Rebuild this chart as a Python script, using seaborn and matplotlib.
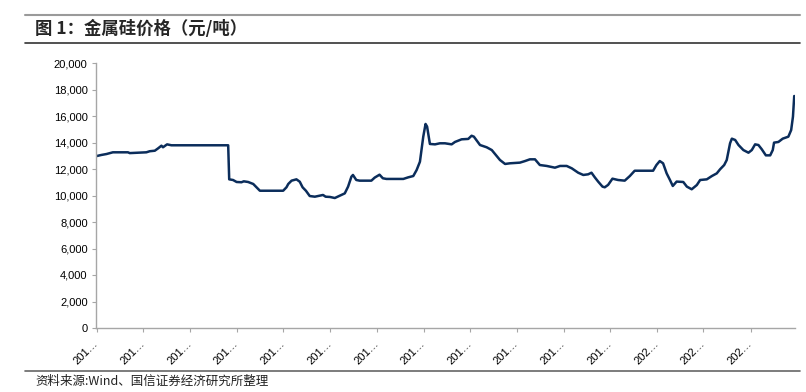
import pandas as pd
import matplotlib
matplotlib.use("Agg")
import matplotlib.pyplot as plt
from matplotlib.lines import Line2D
from matplotlib.ticker import FuncFormatter
import seaborn as sns

# 金属硅价格 (元/吨)
dates = [
    "2014-01-01", "2014-01-19", "2014-02-08", "2014-03-05", "2014-05-03", "2014-05-10",
    "2014-07-14", "2014-07-27", "2014-08-16", "2014-08-29", "2014-09-11", "2014-09-17",
    "2014-10-03", "2014-10-20", "2015-05-30", "2015-06-03", "2015-06-18", "2015-07-02",
    "2015-07-21", "2015-07-30", "2015-08-16", "2015-09-05", "2015-09-18", "2015-10-01",
    "2015-12-31", "2016-01-13", "2016-01-20", "2016-02-02", "2016-02-21", "2016-03-05",
    "2016-03-16", "2016-03-29", "2016-04-13", "2016-05-03", "2016-06-04", "2016-06-14",
    "2016-07-01", "2016-07-20", "2016-08-09", "2016-08-28", "2016-09-10", "2016-09-23",
    "2016-09-29", "2016-10-12", "2016-10-25", "2016-12-10", "2016-12-23", "2017-01-11",
    "2017-01-24", "2017-02-07", "2017-04-14", "2017-05-03", "2017-05-23", "2017-06-05",
    "2017-06-18", "2017-07-01", "2017-07-10", "2017-07-16", "2017-07-27", "2017-08-16",
    "2017-09-04", "2017-09-24", "2017-10-20", "2017-11-02", "2017-11-28", "2017-12-24",
    "2018-01-06", "2018-01-15", "2018-02-08", "2018-03-06", "2018-03-26", "2018-04-08",
    "2018-04-27", "2018-05-17", "2018-06-05", "2018-07-14", "2018-08-03", "2018-08-22",
    "2018-09-11", "2018-09-30", "2018-10-27", "2018-11-28", "2018-12-18", "2019-01-13",
    "2019-02-02", "2019-02-27", "2019-03-19", "2019-04-07", "2019-04-20", "2019-05-03",
    "2019-05-16", "2019-06-02", "2019-06-11", "2019-06-24", "2019-07-11", "2019-08-02",
    "2019-08-28", "2019-09-17", "2019-10-06", "2019-12-17", "2019-12-30", "2020-01-12",
    "2020-01-25", "2020-02-08", "2020-02-21", "2020-03-03", "2020-03-18", "2020-04-13",
    "2020-04-27", "2020-05-16", "2020-06-05", "2020-06-18", "2020-07-14", "2020-08-03",
    "2020-08-22", "2020-09-04", "2020-09-20", "2020-09-30", "2020-10-13", "2020-10-20",
    "2020-11-02", "2020-11-15", "2020-12-04", "2020-12-24", "2021-01-06", "2021-01-19",
    "2021-02-01", "2021-02-14", "2021-03-02", "2021-03-19", "2021-03-29", "2021-04-03",
    "2021-04-20", "2021-05-07", "2021-05-29", "2021-06-09", "2021-06-16", "2021-06-21",
]
prices = [
    12980, 13060, 13130, 13260, 13260, 13200,
    13260, 13340, 13380, 13560, 13760, 13640,
    13860, 13790, 13790, 11220, 11170, 11020,
    11000, 11070, 11020, 10870, 10620, 10360,
    10360, 10620, 10870, 11120, 11220, 11040,
    10620, 10360, 9960, 9910, 10040, 9910,
    9890, 9810, 9990, 10160, 10670, 11420,
    11550, 11170, 11120, 11120, 11350, 11570,
    11300, 11250, 11250, 11370, 11470, 11920,
    12550, 14440, 15400, 15200, 13890, 13860,
    13940, 13940, 13860, 14040, 14240, 14270,
    14510, 14440, 13810, 13640, 13430, 13130,
    12680, 12380, 12430, 12480, 12600, 12730,
    12730, 12300, 12230, 12100, 12230, 12230,
    12050, 11720, 11550, 11600, 11720, 11370,
    11050, 10670, 10620, 10800, 11270, 11170,
    11120, 11470, 11870, 11870, 12300, 12600,
    12430, 11670, 11170, 10720, 11050, 11020,
    10670, 10470, 10790, 11170, 11220, 11470,
    11670, 11980, 12300, 12680, 13940, 14290,
    14190, 13810, 13430, 13230, 13430, 13860,
    13810, 13490, 13030, 13030, 13430, 13990,
    14040, 14290, 14440, 14940, 15950, 17510,
]

tick_dates = [
    "2014-01-01", "2014-07-02", "2015-01-01", "2015-07-02", "2016-01-01",
    "2016-07-01", "2017-01-01", "2017-07-02", "2018-01-01", "2018-07-02",
    "2019-01-01", "2019-07-02", "2020-01-01", "2020-07-01", "2021-01-01",
]
tick_labels = ["201…"] * 12 + ["202…"] * 3

title = "图 1：金属硅价格（元/吨）"
source = "资料来源:Wind、国信证券经济研究所整理"


def draw_chart():
    sns.set_style("white")
    plt.rcParams["font.family"] = ["Liberation Sans", "Noto Sans CJK SC", "DejaVu Sans"]

    df = pd.DataFrame({"date": pd.to_datetime(dates), "price": prices})

    fig = plt.figure(figsize=(8.06, 3.92), dpi=100)
    ax = fig.add_axes([96 / 806, 1 - 328 / 392, (795 - 96) / 806, (328 - 63) / 392])

    sns.lineplot(data=df, x="date", y="price", ax=ax, color="#0b2d5b", linewidth=1.8)

    ax.set_ylim(0, 20000)
    ax.set_yticks(range(0, 20001, 2000))
    ax.yaxis.set_major_formatter(FuncFormatter(lambda v, p: f"{int(v):,}"))
    ax.set_xlim(pd.Timestamp("2013-12-29"), pd.Timestamp("2021-06-24"))
    ax.set_xticks(pd.to_datetime(tick_dates))
    ax.set_xticklabels(tick_labels, rotation=45, ha="right", va="center",
                       rotation_mode="anchor")
    ax.set_xlabel("")
    ax.set_ylabel("")

    for side in ["top", "right"]:
        ax.spines[side].set_visible(False)
    for side in ["left", "bottom"]:
        ax.spines[side].set_color("#a6a6a6")
        ax.spines[side].set_linewidth(1.0)
    ax.tick_params(axis="y", labelsize=8, colors="#000000", length=3, width=0.8,
                   color="#a6a6a6", left=True, pad=3)
    ax.tick_params(axis="x", labelsize=8, colors="#000000", length=3, width=0.8,
                   color="#a6a6a6", bottom=True, pad=7)

    # header and footer rules
    fig.add_artist(Line2D([25 / 806, 800 / 806], [1 - 15 / 392] * 2,
                          transform=fig.transFigure, color="#9a9a9a", linewidth=1.5))
    fig.add_artist(Line2D([25 / 806, 800 / 806], [1 - 43 / 392] * 2,
                          transform=fig.transFigure, color="#333333", linewidth=1.2))
    fig.add_artist(Line2D([25 / 806, 800 / 806], [1 - 371 / 392] * 2,
                          transform=fig.transFigure, color="#666666", linewidth=1.2))

    fig.text(35 / 806, 1 - 29 / 392, title, fontsize=12.5, fontweight="bold",
             va="center", ha="left", family=["Noto Sans CJK SC", "DejaVu Sans"])
    fig.text(35 / 806, 1 - 381 / 392, source, fontsize=9, va="center", ha="left",
             color="#222222", family=["Noto Sans CJK SC", "DejaVu Sans"])

    fig.savefig("out.png", dpi=100)


if __name__ == "__main__":
    draw_chart()
